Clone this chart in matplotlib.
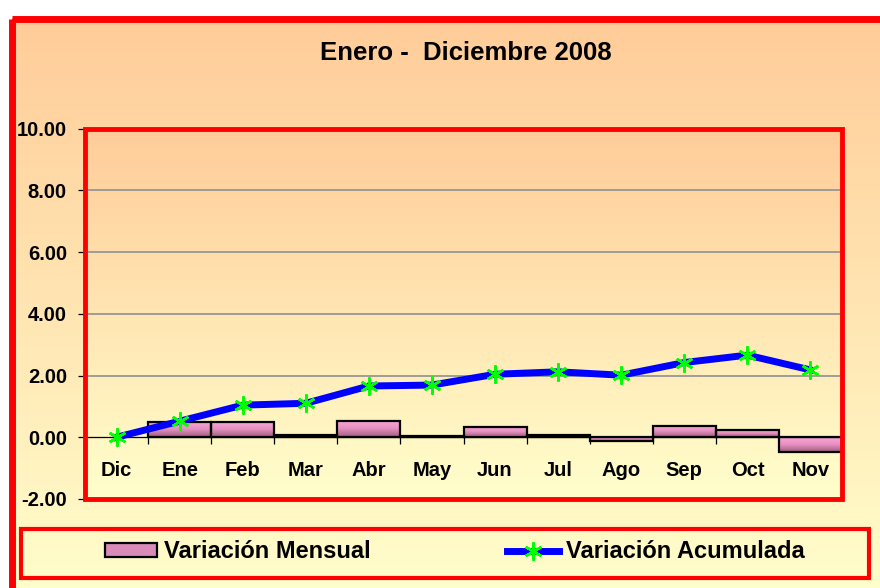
import numpy as np
import matplotlib
matplotlib.use("Agg")
import matplotlib.pyplot as plt
from matplotlib.colors import LinearSegmentedColormap
from matplotlib.patches import Rectangle, Patch
from matplotlib.lines import Line2D
from matplotlib.ticker import FormatStrFormatter

plt.rcParams['font.family'] = ['Liberation Sans', 'DejaVu Sans']
plt.rcParams['font.weight'] = 'bold'

# Datos
meses = ['Dic', 'Ene', 'Feb', 'Mar', 'Abr', 'May', 'Jun', 'Jul', 'Ago', 'Sep', 'Oct', 'Nov']
# Dic no tiene barra (sin dato)
var_mensual = [np.nan, 0.49, 0.49, 0.06, 0.53, 0.03, 0.33, 0.06, -0.12, 0.36, 0.23, -0.48]
var_acumulada = [0.00, 0.52, 1.04, 1.10, 1.66, 1.69, 2.04, 2.12, 2.01, 2.42, 2.66, 2.18]
y_ticks = [-2, 0, 2, 4, 6, 8, 10]

titulo = 'Enero -  Diciembre 2008'

fondo = LinearSegmentedColormap.from_list('fondo', ['#FFCC99', '#FFFFCC'])
rosa = LinearSegmentedColormap.from_list('rosa', ['#FAA8D8', '#E690C0', '#9E5C7E'])
grad = np.linspace(0, 1, 256).reshape(-1, 1)

fig = plt.figure(figsize=(8.8, 5.88), dpi=100, facecolor='white')

# Fondo de la figura (coordenadas en pixeles)
bg = fig.add_axes([0, 0, 1, 1], zorder=-1)
bg.imshow(grad, extent=[11.5, 900, 600, 18.5], cmap=fondo, aspect='auto')
bg.add_patch(Rectangle((11.5, 18.5), 900, 600, fill=False, ec='#FF0000', lw=5))
bg.add_patch(Rectangle((21, 528.5), 848, 49, fill=False, ec='#FF0000', lw=3))
bg.set_xlim(0, 880)
bg.set_ylim(588, 0)
bg.axis('off')

fig.text(466 / 880, 1 - 53 / 588, titulo, ha='center', va='center', fontsize=18.5)

# Area del grafico
ax = fig.add_axes([85 / 880, 89 / 588, 757 / 880, 370.5 / 588])
ax.set_facecolor('none')
ax.imshow(grad, extent=[-0.5, 11.5, -2, 10], cmap=fondo, aspect='auto', zorder=0)

for v in y_ticks[2:]:
    ax.axhline(v, color='#969696', lw=1.3, zorder=1)

x = np.arange(len(meses))
mensual = np.array(var_mensual)
ok = ~np.isnan(mensual)
barras = ax.bar(x[ok], mensual[ok], width=1.0, facecolor='none', edgecolor='black',
                lw=1.6, zorder=3)
for b in barras:
    x0, y0 = b.get_x(), b.get_y()
    y1 = y0 + b.get_height()
    im = ax.imshow(grad, extent=[x0, x0 + b.get_width(), min(y0, y1), max(y0, y1)],
                   cmap=rosa, aspect='auto', zorder=2)
    im.set_clip_path(b)

ax.plot(x, var_acumulada, color='#0000FF', lw=5, marker=(6, 2, 0), ms=13,
        mec='#00FF00', mew=1.8, zorder=4, clip_on=False)

ax.set_xlim(-0.5, 11.5)
ax.set_ylim(-2, 10)

for s in ['left', 'top', 'right']:
    ax.spines[s].set_visible(False)
ax.spines['bottom'].set_position(('data', 0))
ax.spines['bottom'].set_color('black')
ax.spines['bottom'].set_linewidth(0.9)
ax.spines['bottom'].set_zorder(2.5)

ax.set_xticks(x)
ax.set_xticklabels(meses, fontsize=14.5, fontweight='bold')
ax.set_xticks(np.arange(0.5, 11, 1), minor=True)
ax.tick_params(axis='x', which='major', length=0, pad=17)
ax.tick_params(axis='x', which='minor', length=5, width=0.9, direction='out')

ax.set_yticks(y_ticks)
ax.yaxis.set_major_formatter(FormatStrFormatter('%.2f'))
ax.tick_params(axis='y', length=5, width=0.9, pad=8, labelsize=14.5)

ax.add_patch(Rectangle((0, 0), 1, 1, transform=ax.transAxes, fill=False,
                       ec='#FF0000', lw=3.5, clip_on=False, zorder=6))

handles = [
    Patch(facecolor='#D98BBA', edgecolor='black', lw=1.6),
    Line2D([], [], color='#0000FF', lw=5, marker=(6, 2, 0), ms=13,
           mec='#00FF00', mew=1.8),
]
fig.legend(handles, ['Variación Mensual', 'Variación Acumulada'], ncol=2,
           loc='center', bbox_to_anchor=(455 / 880, 1 - 552 / 588),
           frameon=False, fontsize=17, handlelength=2.2, handleheight=0.55,
           handletextpad=0.3, columnspacing=5.8)

fig.savefig('out.png', dpi=100)
